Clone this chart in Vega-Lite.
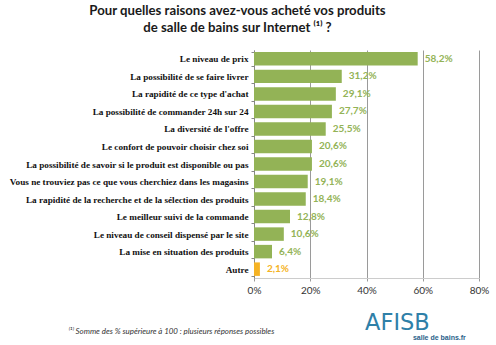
{
  "$schema": "https://vega.github.io/schema/vega-lite/v6.json",
  "width": 225,
  "height": 228,
  "autosize": "none",
  "padding": {"left": 254, "top": 50, "right": 17, "bottom": 67},
  "background": "white",
  "config": {"view": {"stroke": null}, "font": "Lato"},
  "title": {
    "text": ["Pour quelles raisons avez-vous acheté vos produits", "de salle de bains sur Internet ⁽¹⁾ ?"],
    "anchor": "middle",
    "frame": "group",
    "dx": -129,
    "offset": 11,
    "font": "Lato",
    "fontSize": 13.2,
    "fontWeight": "bold",
    "color": "#1a1a1a",
    "lineHeight": 17
  },
  "data": {
    "values": [
      {"raison": "Le niveau de prix", "pct": 0.582, "label": "58,2%", "type": "main"},
      {"raison": "La possibilité de se faire livrer", "pct": 0.312, "label": "31,2%", "type": "main"},
      {"raison": "La rapidité de ce type d'achat", "pct": 0.291, "label": "29,1%", "type": "main"},
      {"raison": "La possibilité de commander 24h sur 24", "pct": 0.277, "label": "27,7%", "type": "main"},
      {"raison": "La diversité de l'offre", "pct": 0.255, "label": "25,5%", "type": "main"},
      {"raison": "Le confort de pouvoir choisir chez soi", "pct": 0.206, "label": "20,6%", "type": "main"},
      {"raison": "La possibilité de savoir si le produit est disponible ou pas", "pct": 0.206, "label": "20,6%", "type": "main"},
      {"raison": "Vous ne trouviez pas ce que vous cherchiez dans les magasins", "pct": 0.191, "label": "19,1%", "type": "main"},
      {"raison": "La rapidité de la recherche et de la sélection des produits", "pct": 0.184, "label": "18,4%", "type": "main"},
      {"raison": "Le meilleur suivi de la commande", "pct": 0.128, "label": "12,8%", "type": "main"},
      {"raison": "Le niveau de conseil dispensé par le site", "pct": 0.106, "label": "10,6%", "type": "main"},
      {"raison": "La mise en situation des produits", "pct": 0.064, "label": "6,4%", "type": "main"},
      {"raison": "Autre", "pct": 0.021, "label": "2,1%", "type": "autre"}
    ]
  },
  "encoding": {
    "y": {
      "field": "raison",
      "type": "nominal",
      "sort": null,
      "scale": {"paddingInner": 0.23, "paddingOuter": 0.12},
      "axis": {
        "title": null,
        "labelFont": "Liberation Sans Narrow",
        "labelFontWeight": "bold",
        "labelFontSize": 9.2,
        "labelColor": "#111111",
        "labelPadding": 3,
        "labelLimit": 260,
        "tickSize": 3,
        "tickColor": "#888888",
        "domainColor": "#888888",
        "tickBand": "extent"
      }
    },
    "x": {
      "field": "pct",
      "type": "quantitative",
      "scale": {"domain": [0, 0.8]},
      "axis": {
        "format": ".0%",
        "values": [0, 0.2, 0.4, 0.6, 0.8],
        "labelFlush": false,
        "grid": true,
        "gridColor": "#9a9a9a",
        "gridWidth": 1,
        "domainColor": "#cccccc",
        "tickColor": "#9a9a9a",
        "tickSize": 3,
        "labelFont": "Lato",
        "labelFontSize": 10,
        "labelColor": "#333333",
        "labelPadding": 4,
        "title": "⁽¹⁾ Somme des % supérieure à 100 : plusieurs réponses possibles",
        "titleFont": "Lato",
        "titleFontStyle": "italic",
        "titleFontWeight": "normal",
        "titleFontSize": 7.9,
        "titleColor": "#333333",
        "titleAlign": "left",
        "titleAnchor": "start",
        "titleX": -186,
        "titleY": 53,
        "titleBaseline": "middle"
      }
    }
  },
  "layer": [
    {
      "mark": {"type": "bar"},
      "encoding": {
        "color": {
          "field": "type",
          "type": "nominal",
          "scale": {"domain": ["main", "autre"], "range": ["#93b356", "#f5b325"]},
          "legend": null
        }
      }
    },
    {
      "mark": {"type": "text", "align": "left", "dx": 7, "font": "Lato", "fontWeight": "bold", "fontSize": 10},
      "encoding": {
        "text": {"field": "label"},
        "color": {
          "field": "type",
          "type": "nominal",
          "scale": {"domain": ["main", "autre"], "range": ["#8aa84e", "#f5b325"]},
          "legend": null
        }
      }
    },
    {
      "data": {"values": [{"logo": "AFISB", "x": 0.395}]},
      "mark": {"type": "text", "align": "left", "baseline": "alphabetic", "font": "DejaVu Sans", "fontWeight": "normal", "fontSize": 22.5, "color": "#2f80a8", "yOffset": 52},
      "encoding": {"x": {"field": "x", "type": "quantitative"}, "y": {"value": 228}, "text": {"field": "logo"}}
    },
    {
      "data": {"values": [{"logo": "salle de bains.fr", "x": 0.565}]},
      "mark": {"type": "text", "align": "left", "baseline": "alphabetic", "font": "Liberation Sans", "fontWeight": "bold", "fontSize": 7, "color": "#2a5f8a", "yOffset": 62},
      "encoding": {"x": {"field": "x", "type": "quantitative"}, "y": {"value": 228}, "text": {"field": "logo"}}
    }
  ]
}
